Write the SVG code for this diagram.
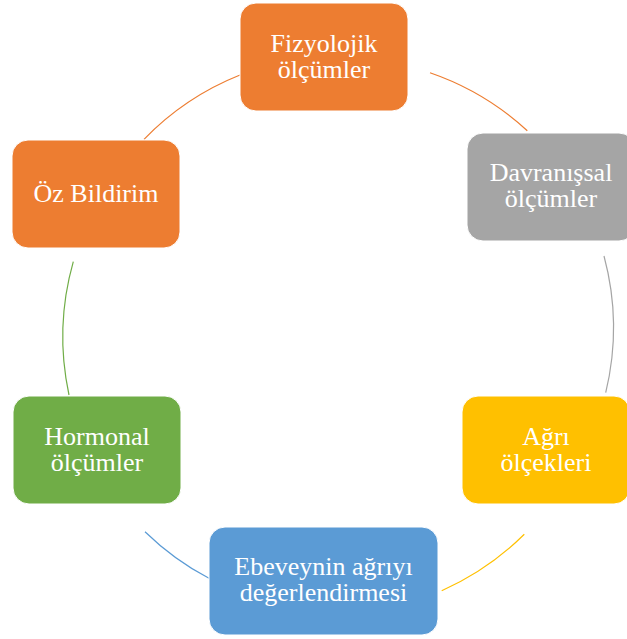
<svg xmlns="http://www.w3.org/2000/svg" width="627" height="639" viewBox="0 0 627 639">
<style>
.box{stroke:#ffffff;stroke-width:1}
.t{font-family:"Liberation Serif","Times New Roman",serif;font-size:26px;fill:#ffffff;text-anchor:middle}
.arc{fill:none;stroke-width:1.2}
</style>
<rect width="627" height="639" fill="#ffffff"/>
<g id="connectors">
<path class="arc" stroke="#ED7D31" d="M430,72.7 A276,276 0 0 1 527.3,130.7"/>
<path class="arc" stroke="#A5A5A5" d="M604,256 A276,276 0 0 1 605.7,392.7"/>
<path class="arc" stroke="#FFC000" d="M524.3,534.3 A276,276 0 0 1 441.7,590.7"/>
<path class="arc" stroke="#5B9BD5" d="M209,578.3 A276,276 0 0 1 145,531.7"/>
<path class="arc" stroke="#70AD47" d="M69,395 A276,276 0 0 1 73.3,261.7"/>
<path class="arc" stroke="#ED7D31" d="M144,139.3 A276,276 0 0 1 240,75"/>
</g>
<g id="node-fizyolojik">
<rect class="box" x="240" y="3" width="168" height="108" rx="16" fill="#ED7D31"/>
<text class="t" x="324" y="52">Fizyolojik</text>
<text class="t" x="324" y="78">ölçümler</text>
</g>
<g id="node-davranissal">
<rect class="box" x="467" y="133" width="168" height="108" rx="16" fill="#A5A5A5"/>
<text class="t" x="551" y="181">Davranışsal</text>
<text class="t" x="551" y="207">ölçümler</text>
</g>
<g id="node-agri">
<rect class="box" x="462" y="396" width="168" height="108" rx="16" fill="#FFC000"/>
<text class="t" x="546" y="445">Ağrı</text>
<text class="t" x="546" y="471">ölçekleri</text>
</g>
<g id="node-ebeveyn">
<rect class="box" x="209" y="527" width="229" height="108" rx="16" fill="#5B9BD5"/>
<text class="t" x="323.5" y="575">Ebeveynin ağrıyı</text>
<text class="t" x="323.5" y="601">değerlendirmesi</text>
</g>
<g id="node-hormonal">
<rect class="box" x="13" y="396" width="168" height="108" rx="16" fill="#70AD47"/>
<text class="t" x="97" y="445">Hormonal</text>
<text class="t" x="97" y="471">ölçümler</text>
</g>
<g id="node-oz">
<rect class="box" x="12" y="140" width="168" height="108" rx="16" fill="#ED7D31"/>
<text class="t" x="96" y="202">Öz Bildirim</text>
</g>
</svg>
